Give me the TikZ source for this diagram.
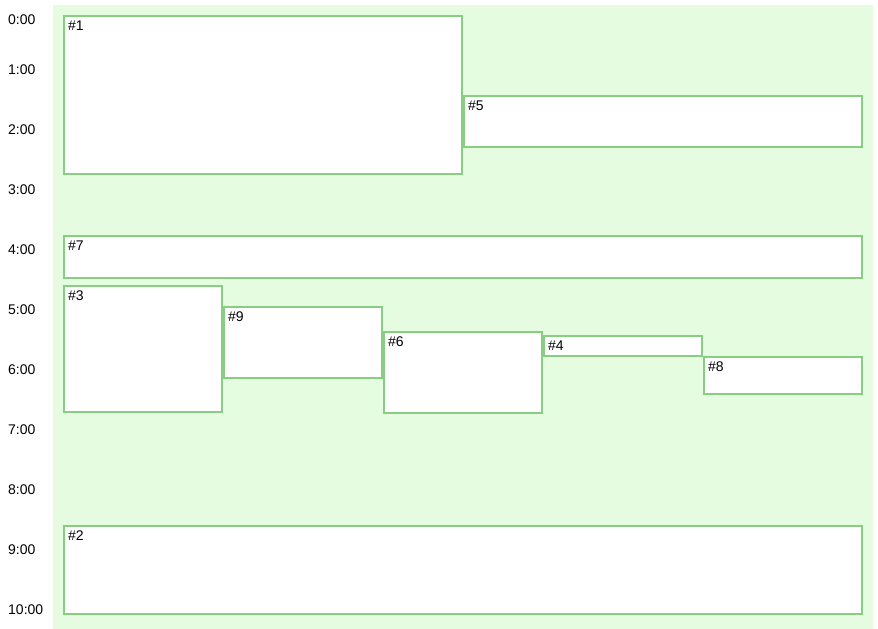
\documentclass[tikz,border=0pt]{standalone}
\usepackage{fontspec}
\setmainfont{Liberation Sans}
\definecolor{lanebg}{RGB}{230,252,224}
\definecolor{slotline}{RGB}{136,206,130}
\begin{document}
\begin{tikzpicture}[x=1pt,y=-1pt,
  slot/.style={draw=slotline, line width=1.8pt, fill=white, inner sep=0pt,
    anchor=north west, outer sep=0pt},
  tag/.style={anchor=west, inner sep=0pt, font=\fontsize{14}{14}\selectfont},
  hour/.style={anchor=west, inner sep=0pt, font=\fontsize{14}{14}\selectfont}]
  \useasboundingbox (0,0) rectangle (878,629);
  % lane background
  \fill[lanebg] (53,5) rectangle (873,629);
  % hour labels (the first one is kept inside the top edge)
  \node[hour] (h0) at (8,20) {0:00};
  \foreach \h in {1,...,10} {
    \node[hour] (h\h) at (8,{10+60*\h}) {\h:00};
  }
  % slots: name, left, top, width, height
  \foreach \n/\x/\y/\w/\hh in {
      1/64/16/398/158,
      5/464/96/398/51,
      7/64/236/798/42,
      3/64/286/158/126,
      9/224/307/158/71,
      6/384/332/158/81,
      4/544/336/158/20,
      8/704/357/158/37,
      2/64/526/798/88} {
    \node[slot, minimum width=\w pt, minimum height=\hh pt] (b\n) at (\x,\y) {};
    \node[tag] (t\n) at ([shift={(4pt,-9.5pt)}]b\n.north west) {\#\n};
  }
\end{tikzpicture}
\end{document}
